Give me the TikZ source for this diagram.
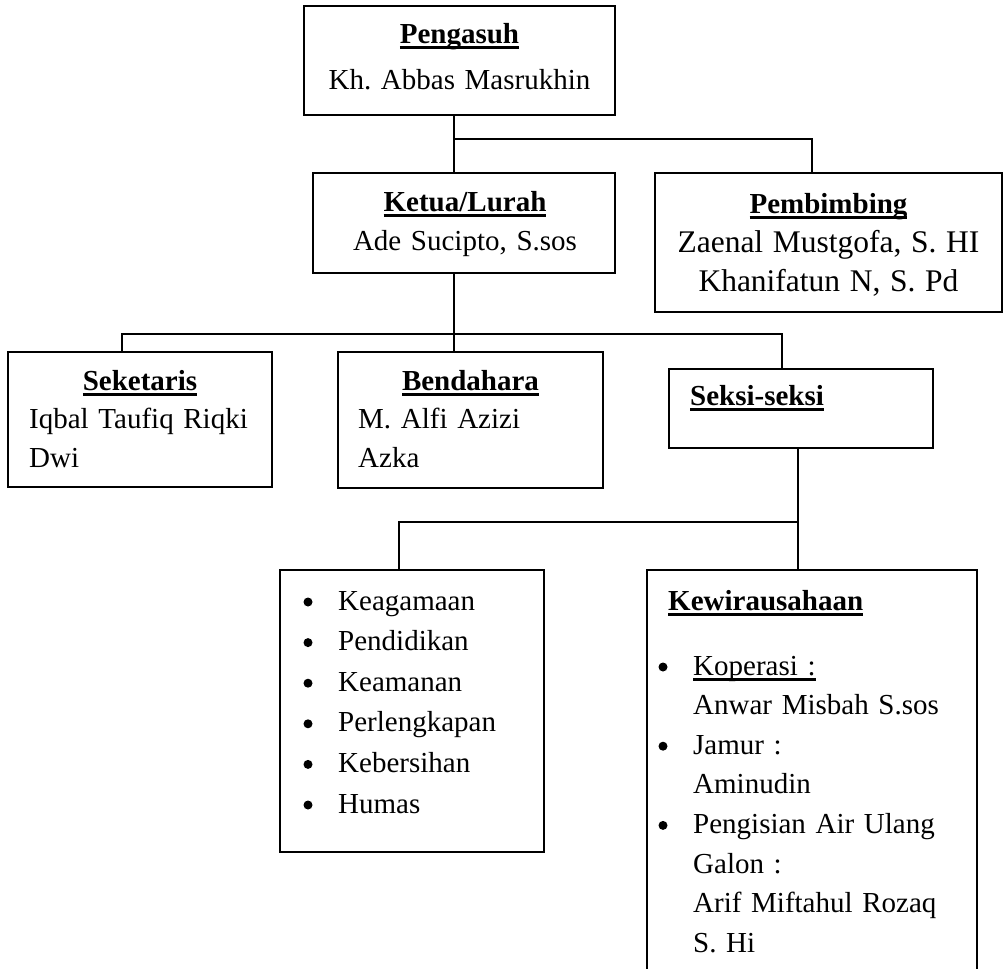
\documentclass[tikz,border=0pt]{standalone}
\usepackage{fontspec}
\setmainfont{Liberation Serif}
\newsavebox\undlbox
\newcommand{\undl}[1]{\sbox\undlbox{#1}\rlap{\rule[-0.2em]{\wd\undlbox}{0.09em}}\usebox\undlbox}
\newcommand{\lsize}[1]{\fontsize{29pt}{#1}\selectfont\frenchspacing}

\begin{document}
\begin{tikzpicture}[x=1pt,y=-1pt,block/.style={draw,rectangle,line width=2pt,inner sep=0pt},frame/.style={rectangle,inner sep=0pt},conn/.style={draw=black,line width=2pt},txt/.style={inner sep=0pt,anchor=base,font=\lsize{39pt}},bul/.style={circle,fill=black,inner sep=0pt,minimum size=9pt}]
  \useasboundingbox (0,0) rectangle (1005,969);

  % boxes
  \node[block,minimum width=311pt,minimum height=109pt] (peng) at (459.5,60.5) {};
  \node[block,minimum width=302pt,minimum height=100pt] (ketua) at (464,223) {};
  \node[block,minimum width=347pt,minimum height=139pt] (pemb) at (828.5,242.5) {};
  \node[block,minimum width=264pt,minimum height=135pt] (sek) at (140,419.5) {};
  \node[block,minimum width=265pt,minimum height=136pt] (bend) at (470.5,420) {};
  \node[block,minimum width=264pt,minimum height=79pt] (seksi) at (801,408.5) {};
  \node[block,minimum width=264pt,minimum height=282pt] (list) at (412,711) {};
  \node[frame,minimum width=330pt,minimum height=410pt] (kew) at (812,775) {};
  \draw[conn] (kew.south west) |- (kew.north east) -- (kew.south east);

  % texts
  \node[txt,text width=300pt,align=center] (peng-txt) at (459.5,43) {\undl{\textbf{Pengasuh}}\\[8pt]Kh. Abbas Masrukhin};
  \node[txt,text width=290pt,align=center] (ketua-txt) at (465,211) {\undl{\textbf{Ketua/Lurah}}\\Ade Sucipto, S.sos};
  \node[txt,text width=340pt,align=center] (pemb-txt) at (828.5,213) {\undl{\textbf{Pembimbing}}\\{\fontsize{31.5pt}{39pt}\selectfont Zaenal Mustgofa, S. HI\\Khanifatun N, S. Pd}};
  \node[txt] (sek-head) at (140,390) {\undl{\textbf{Seketaris}}};
  \node[txt,anchor=base west,text width=240pt,align=left] (sek-txt) at (29,428) {Iqbal Taufiq Riqki\\Dwi};
  \node[txt] (bend-head) at (470.5,390) {\undl{\textbf{Bendahara}}};
  \node[txt,anchor=base west,text width=240pt,align=left] (bend-txt) at (358,428) {M. Alfi Azizi\\Azka};
  \node[txt,anchor=base west] (seksi-head) at (690,405) {\undl{\textbf{Seksi-seksi}}};

  \node[txt,anchor=base west,text width=200pt,align=left,font=\lsize{40.6pt}] (list-txt) at (338,610) {Keagamaan\\Pendidikan\\Keamanan\\Perlengkapan\\Kebersihan\\Humas};
  \foreach \i in {0,...,5}
    \node[bul] (list-bul-\i) at (308,{602+40.6*\i}) {};

  \node[txt,anchor=base west] (kew-head) at (668,610) {\undl{\textbf{Kewirausahaan}}};
  \node[txt,anchor=base west,text width=280pt,align=left,font=\lsize{39.6pt}] (kew-txt) at (693,675) {\undl{Koperasi :}\\Anwar Misbah S.sos\\Jamur :\\Aminudin\\Pengisian Air Ulang\\Galon :\\Arif Miftahul Rozaq\\S. Hi};
  \foreach \i in {0,2,4}
    \node[bul] (kew-bul-\i) at (663,{667+39.6*\i}) {};

  % connectors
  \coordinate (top-split) at (454,139);
  \coordinate (pemb-drop) at (812,139);
  \coordinate (mid-split) at (454,334);
  \coordinate (sek-drop) at (122,334);
  \coordinate (seksi-drop) at (782,334);
  \coordinate (low-split) at (798,522);
  \coordinate (list-drop) at (399,522);

  \draw[conn] (peng.south -| top-split) -- (ketua.north -| top-split);
  \draw[conn] (top-split) -- (pemb-drop) -- (pemb.north -| pemb-drop);
  \draw[conn] (ketua.south -| mid-split) -- (bend.north -| mid-split);
  \draw[conn] (sek.north -| sek-drop) -- (sek-drop) -- (seksi-drop) -- (seksi.north -| seksi-drop);
  \draw[conn] (seksi.south -| low-split) -- (kew.north -| low-split);
  \draw[conn] (low-split) -- (list-drop) -- (list.north -| list-drop);
\end{tikzpicture}
\end{document}
